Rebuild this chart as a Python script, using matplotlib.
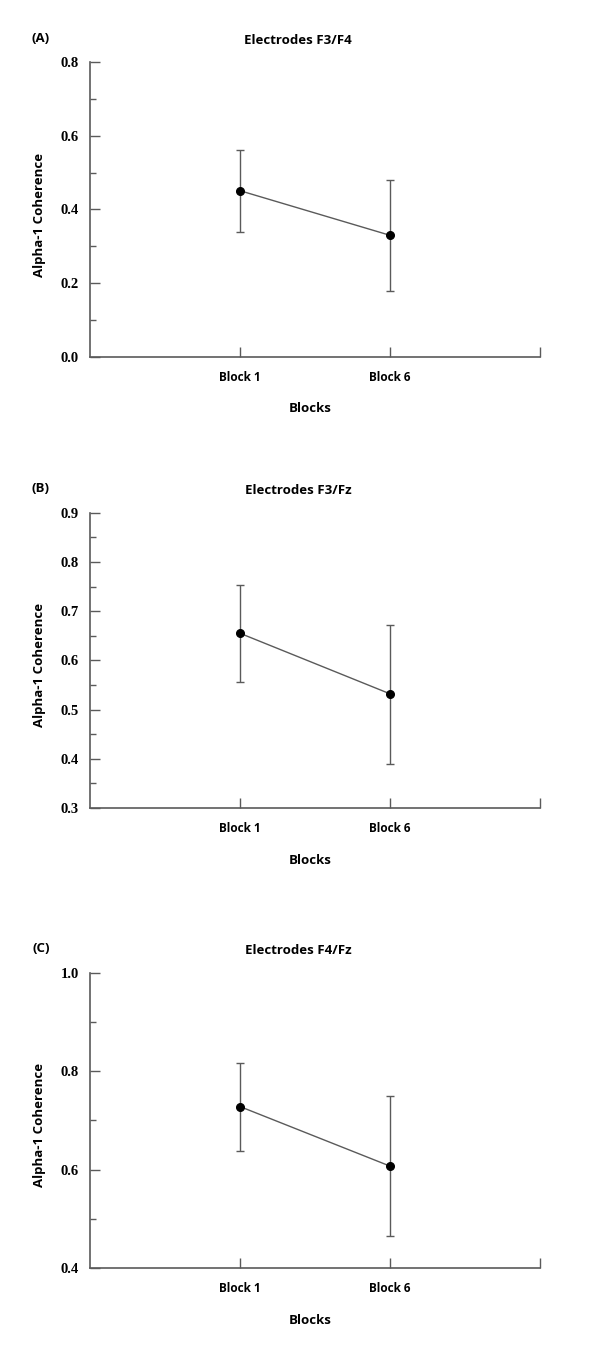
import matplotlib
matplotlib.use("Agg")
import matplotlib.pyplot as plt
from matplotlib.ticker import MultipleLocator

blocks = ["Block 1", "Block 6"]
block_pos = [1, 2]

titles = ["Electrodes F3/F4", "Electrodes F3/Fz", "Electrodes F4/Fz"]
panel_tags = ["(A)", "(B)", "(C)"]

mean_a = [0.451, 0.330]
upper_a = [0.562, 0.480]
lower_a = [0.340, 0.180]

mean_b = [0.655, 0.532]
upper_b = [0.754, 0.672]
lower_b = [0.555, 0.390]

mean_c = [0.728, 0.607]
upper_c = [0.816, 0.749]
lower_c = [0.637, 0.466]

ylims = [(0.0, 0.8), (0.3, 0.9), (0.4, 1.0)]
major_steps = [0.2, 0.1, 0.2]
minor_steps = [0.1, 0.05, 0.1]

means = [mean_a, mean_b, mean_c]
uppers = [upper_a, upper_b, upper_c]
lowers = [lower_a, lower_b, lower_c]

gray = "#5a5a5a"
W, H = 600, 1357
fig = plt.figure(figsize=(W / 100, H / 100), dpi=100)

# pixel tops/bottoms of each axes
tops = [62, 512.7, 972.7]
bottoms = [357, 808, 1268]

for i in range(3):
    top, bot = tops[i], bottoms[i]
    ax = fig.add_axes([90 / W, 1 - bot / H, 450 / W, (bot - top) / H])
    m = means[i]
    yerr = [[m[k] - lowers[i][k] for k in range(2)],
            [uppers[i][k] - m[k] for k in range(2)]]
    ax.errorbar(block_pos, m, yerr=yerr, fmt="none", ecolor=gray,
                elinewidth=1.0, capsize=3, capthick=1.0)
    ax.plot(block_pos, m, color=gray, lw=1.0)
    ax.plot(block_pos, m, "o", color="black", markersize=5.5)

    ax.set_xlim(0, 3)
    ax.set_ylim(*ylims[i])
    for s in ["top", "right"]:
        ax.spines[s].set_visible(False)
    for s in ["left", "bottom"]:
        ax.spines[s].set_color(gray)
        ax.spines[s].set_linewidth(1.2)

    ax.set_xticks([1, 2, 3])
    ax.set_xticklabels(blocks + [""], fontfamily="Open Sans",
                       fontweight="bold", fontsize=8.5)
    ax.tick_params(axis="x", direction="in", length=7, width=1.0,
                   color=gray, pad=10)
    ax.yaxis.set_major_locator(MultipleLocator(major_steps[i]))
    ax.yaxis.set_minor_locator(MultipleLocator(minor_steps[i]))
    ax.tick_params(axis="y", which="major", direction="in", length=7,
                   width=1.0, color=gray, pad=8)
    ax.tick_params(axis="y", which="minor", direction="in", length=4,
                   width=1.0, color=gray)
    ax.yaxis.set_major_formatter(matplotlib.ticker.FormatStrFormatter("%.1f"))
    for lab in ax.get_yticklabels():
        lab.set_fontfamily("Liberation Serif")
        lab.set_fontweight("bold")
        lab.set_fontsize(10.5)

    mid = (top + bot) / 2
    fig.text(40 / W, 1 - (mid + 5) / H, "Alpha-1 Coherence", rotation=90,
             ha="center", va="center", fontfamily="Open Sans",
             fontweight="bold", fontsize=9.5)
    fig.text(310 / W, 1 - (bot + 52) / H, "Blocks", ha="center", va="center",
             fontfamily="Open Sans", fontweight="bold", fontsize=9.5)
    fig.text(298 / W, 1 - (top - 22) / H, titles[i], ha="center", va="center",
             fontfamily="Open Sans", fontweight="bold", fontsize=9.5)
    fig.text(41 / W, 1 - (top - 24) / H, panel_tags[i], ha="center",
             va="center", fontfamily="Open Sans", fontweight="bold",
             fontsize=9.5)

fig.savefig("out.png", dpi=100)
